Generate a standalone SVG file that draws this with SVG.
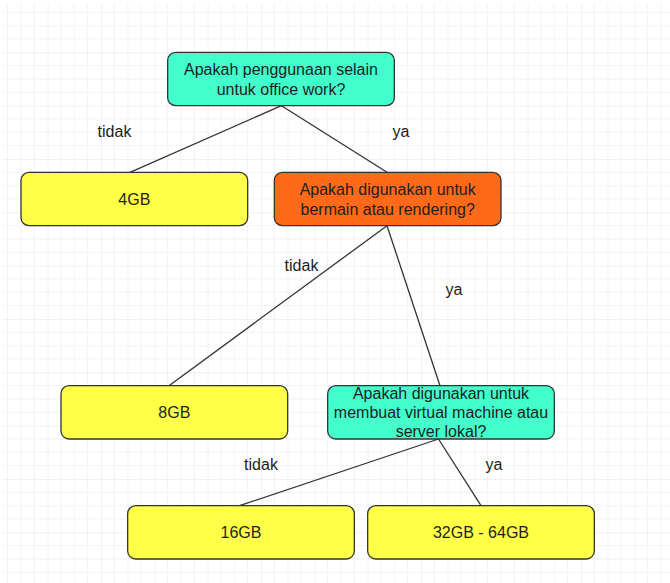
<svg xmlns="http://www.w3.org/2000/svg" width="670" height="583" viewBox="0 0 670 583">
  <defs>
    <pattern id="grid" patternUnits="userSpaceOnUse" x="-5.67" y="-1" width="53.333" height="53.333">
      <path d="M13.333 0V53.333M26.667 0V53.333M40 0V53.333M0 13.333H53.333M0 26.667H53.333M0 40H53.333" stroke="#f2f2f2" stroke-width="1" fill="none"/>
      <path d="M0 0V53.333M0 0H53.333" stroke="#e3e3e3" stroke-width="1" fill="none"/>
    </pattern>
    <style>
      .node rect { stroke: #333333; stroke-width: 1.3; }
      .cyan { fill: #42FFCC; }
      .yellow { fill: #FFFF48; }
      .orange { fill: #FF6A1A; }
      text { font-family: "Liberation Sans", Arial, sans-serif; font-size: 16px; fill: #1e1e1e; text-anchor: middle; }
      .edges line { stroke: #333333; stroke-width: 1.3; }
    </style>
  </defs>
  <rect x="0" y="0" width="670" height="583" fill="#ffffff"/>
  <rect x="3" y="4" width="667" height="579" fill="url(#grid)"/>

  <g id="connectors" class="edges">
    <line x1="281.5" y1="105.7" x2="130" y2="172.3"/>
    <line x1="281.5" y1="105.7" x2="387" y2="172.3"/>
    <line x1="387" y1="225.7" x2="169" y2="385.7"/>
    <line x1="387" y1="225.7" x2="440" y2="385.7"/>
    <line x1="438.5" y1="439" x2="239.5" y2="505.7"/>
    <line x1="438.5" y1="439" x2="481" y2="505.7"/>
  </g>

  <g id="labels">
    <text x="114.5" y="137">tidak</text>
    <text x="401" y="137">ya</text>
    <text x="301.5" y="270.5">tidak</text>
    <text x="454" y="295">ya</text>
    <text x="261" y="470">tidak</text>
    <text x="494" y="470">ya</text>
  </g>

  <g id="q1" class="node">
    <rect class="cyan" x="167.67" y="52.33" width="226.67" height="53.33" rx="8"/>
    <text x="281" y="75">Apakah penggunaan selain</text>
    <text x="281" y="95">untuk office work?</text>
  </g>
  <g id="r4gb" class="node">
    <rect class="yellow" x="21" y="172.33" width="226.67" height="53.33" rx="8"/>
    <text x="134.3" y="205">4GB</text>
  </g>
  <g id="q2" class="node">
    <rect class="orange" x="274.33" y="172.33" width="226.67" height="53.33" rx="8"/>
    <text x="387.7" y="195">Apakah digunakan untuk</text>
    <text x="387.7" y="215">bermain atau rendering?</text>
  </g>
  <g id="r8gb" class="node">
    <rect class="yellow" x="61" y="385.67" width="226.67" height="53.33" rx="8"/>
    <text x="174.3" y="417.5">8GB</text>
  </g>
  <g id="q3" class="node">
    <rect class="cyan" x="327.67" y="385.67" width="226.67" height="53.33" rx="8"/>
    <text x="441" y="399">Apakah digunakan untuk</text>
    <text x="441" y="418.2">membuat virtual machine atau</text>
    <text x="441" y="437.4">server lokal?</text>
  </g>
  <g id="r16gb" class="node">
    <rect class="yellow" x="127.67" y="505.67" width="226.67" height="53.33" rx="8"/>
    <text x="241" y="538">16GB</text>
  </g>
  <g id="r32gb" class="node">
    <rect class="yellow" x="367.67" y="505.67" width="226.67" height="53.33" rx="8"/>
    <text x="481" y="538">32GB - 64GB</text>
  </g>
</svg>
